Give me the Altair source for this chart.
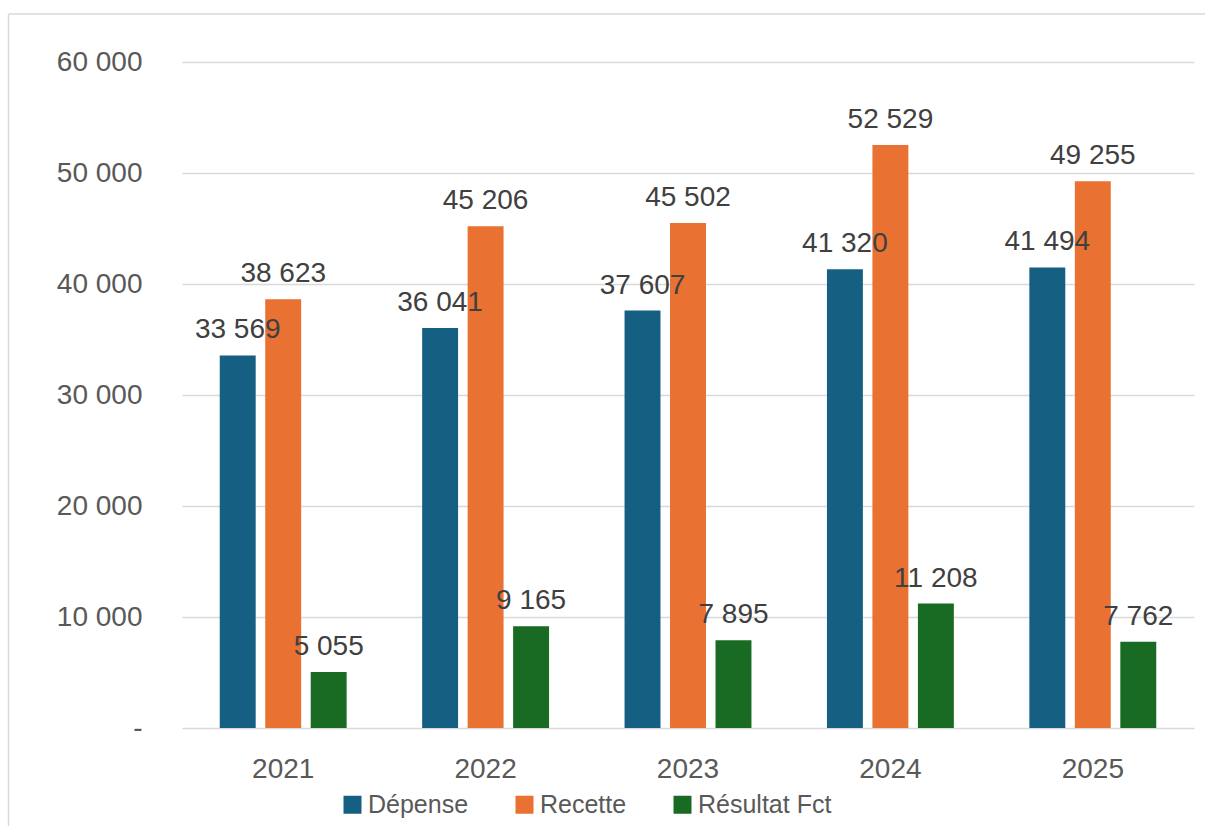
import altair as alt
import pandas as pd

years = ["2021", "2022", "2023", "2024", "2025"]
series = ["Dépense", "Recette", "Résultat Fct"]
depense = [33569, 36041, 37607, 41320, 41494]
recette = [38623, 45206, 45502, 52529, 49255]
resultat = [5055, 9165, 7895, 11208, 7762]
colors = ["#156082", "#E97132", "#196B24"]

rows = []
for i, y in enumerate(years):
    for s, vals in zip(series, [depense, recette, resultat]):
        v = vals[i]
        rows.append({"year": y, "serie": s, "value": v,
                     "label": f"{v:,}".replace(",", " ")})
df = pd.DataFrame(rows)

FONT = "Liberation Sans"
W, H = 1012, 666

x = alt.X("year:N", sort=years, title=None,
          scale=alt.Scale(paddingInner=0.373, paddingOuter=0.1865),
          axis=alt.Axis(labelAngle=0, ticks=False, domain=False, labelPadding=27,
                        labelFontSize=28, labelColor="#595959", labelFont=FONT))
xo = alt.XOffset("serie:N", sort=series,
                 scale=alt.Scale(paddingInner=0.21, paddingOuter=0))
y = alt.Y("value:Q", title=None,
          scale=alt.Scale(domain=[0, 60000], nice=False),
          axis=alt.Axis(values=[0, 10000, 20000, 30000, 40000, 50000, 60000],
                        labelExpr="datum.value == 0 ? '-\u00a0\u00a0\u00a0\u00a0\u00a0' : replace(format(datum.value, ','), ',', ' ')",
                        ticks=False, domain=False, labelPadding=40,
                        labelFontSize=28, labelColor="#595959", labelFont=FONT,
                        gridColor="#d9d9d9", gridWidth=1.5))

base = alt.Chart(df)

bars = base.mark_bar().encode(
    x=x, xOffset=xo, y=y,
    color=alt.Color("serie:N", sort=series,
                    scale=alt.Scale(domain=series, range=colors),
                    legend=alt.Legend(title=None, orient="none", direction="horizontal",
                                      legendX=158, legendY=730,
                                      symbolType="square", symbolSize=324,
                                      symbolStrokeWidth=0,
                                      labelFontSize=25, labelColor="#595959",
                                      labelFont=FONT,
                                      labelOffset=3, columnPadding=43, padding=0)),
)

labels = base.mark_text(baseline="alphabetic", dy=-17, fontSize=28,
                        color="#404040", font=FONT).encode(
    x=x, xOffset=xo, y=y, text="label:N")

frame_left = alt.Chart(pd.DataFrame({"a": [0]})).mark_rule(
    color="#d9d9d9", strokeWidth=1.5).encode(
    x=alt.value(-173.5), y=alt.value(-48), y2=alt.value(H + 200))
frame_top = alt.Chart(pd.DataFrame({"a": [0]})).mark_rule(
    color="#d9d9d9", strokeWidth=1.5).encode(
    x=alt.value(-173.5), x2=alt.value(W + 200), y=alt.value(-48))

chart = alt.layer(bars, labels, frame_left, frame_top).properties(
    width=W, height=H,
    autosize=alt.AutoSizeParams(type="none"),
    padding={"left": 182, "top": 62, "right": 11, "bottom": 98},
    background="white",
).configure_view(stroke=None)

chart.save("out.html", embed_options={"renderer": "svg", "actions": False})
